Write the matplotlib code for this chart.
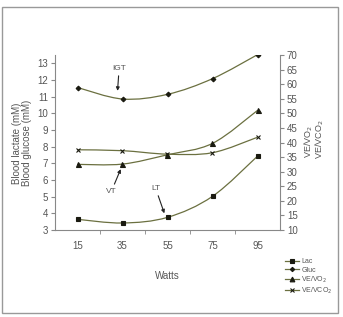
import numpy as np
import matplotlib.pyplot as plt
from matplotlib.path import Path
from matplotlib.patches import PathPatch, Rectangle

plt.rcParams['font.family'] = ['Liberation Sans', 'DejaVu Sans']

watts = [15, 35, 55, 75, 95]
lac = [3.64, 3.42, 3.76, 5.02, 7.43]
gluc = [11.55, 10.86, 11.14, 12.08, 13.52]
ve_vo2 = [32.5, 32.6, 35.8, 39.7, 51.0]
ve_vco2 = [37.5, 37.2, 36.0, 36.5, 41.8]

LINE = '#6b7040'
MK = '#1a1a10'
TXT = '#555555'


def smooth_path(x, y):
    # Excel-like smoothed line: cubic Bezier segments (Catmull-Rom tangents)
    x = np.asarray(x, float)
    y = np.asarray(y, float)
    verts = [(x[0], y[0])]
    codes = [Path.MOVETO]
    n = len(x)
    for i in range(n - 1):
        x0, y0 = (x[i - 1], y[i - 1]) if i > 0 else (x[i], y[i])
        x3, y3 = (x[i + 2], y[i + 2]) if i + 2 < n else (x[i + 1], y[i + 1])
        c1 = (x[i] + (x[i + 1] - x0) / 6, y[i] + (y[i + 1] - y0) / 6)
        c2 = (x[i + 1] - (x3 - x[i]) / 6, y[i + 1] - (y3 - y[i]) / 6)
        verts += [c1, c2, (x[i + 1], y[i + 1])]
        codes += [Path.CURVE4] * 3
    return Path(verts, codes)


fig = plt.figure(figsize=(3.43, 3.17), dpi=100)
fig.patches.append(Rectangle((0.006, 0.013), 0.979, 0.965, transform=fig.transFigure,
                             fill=False, edgecolor='#999999', lw=1.0))

ax = fig.add_axes([55 / 343, 1 - 230 / 317, 225 / 343, 175 / 317])
ax2 = ax.twinx()

for a, xs, ys, mk, ms in [
    (ax, watts, lac, 's', 3.2),
    (ax, watts, gluc, 'D', 2.4),
    (ax2, watts, ve_vo2, '^', 3.6),
    (ax2, watts, ve_vco2, 'x', 3.4),
]:
    a.add_patch(PathPatch(smooth_path(xs, ys), fill=False, edgecolor=LINE, lw=0.9))
    a.plot(xs, ys, linestyle='none', marker=mk, ms=ms, color=MK, mew=0.8)

ax.set_xlim(5, 105)
ax.set_ylim(3, 13.5)
ax2.set_ylim(10, 70)
ax.set_yticks(range(3, 14))
ax2.set_yticks(range(10, 71, 5))
ax.set_xticks(watts)
ax.set_xticks([25, 45, 65, 85], minor=True)

for a in (ax, ax2):
    a.spines['top'].set_visible(False)
    for s in a.spines.values():
        s.set_color('#888888')
        s.set_linewidth(0.8)
ax.spines['right'].set_visible(False)
ax2.spines['left'].set_visible(False)
ax2.spines['bottom'].set_visible(False)

ax.tick_params(axis='x', which='major', length=0, pad=8, labelsize=7, colors=TXT)
ax.tick_params(axis='x', which='minor', length=3, color='#888888')
ax.tick_params(axis='y', length=3, labelsize=7, colors=TXT, color='#888888', pad=2)
ax2.tick_params(axis='y', length=3, labelsize=7, colors=TXT, color='#888888', pad=2)

ax.set_xlabel('Watts', fontsize=7, color=TXT, labelpad=14)
fig.text(17 / 343, 1 - 143 / 317, 'Blood lactate (mM)', rotation=90, ha='center',
         va='center', fontsize=7, color=TXT)
fig.text(27 / 343, 1 - 143 / 317, 'Blood glucose (mM)', rotation=90, ha='center',
         va='center', fontsize=7, color=TXT)
fig.text(309 / 343, 1 - 141 / 317, 'VE/VO$_2$', rotation=90, ha='center',
         va='center', fontsize=6.5, color=TXT)
fig.text(320 / 343, 1 - 139 / 317, 'VE/VCO$_2$', rotation=90, ha='center',
         va='center', fontsize=6.5, color=TXT)

arrow = dict(arrowstyle='-|>', color='#222222', lw=0.8, mutation_scale=5,
             shrinkA=1, shrinkB=0)
ax.annotate('IGT', xy=(32.8, 11.35), xytext=(33.5, 12.5), fontsize=6, color=TXT,
            ha='center', va='bottom', arrowprops=arrow)
ax.annotate('VT', xy=(34.2, 6.65), xytext=(30.0, 5.3), fontsize=6, color=TXT,
            ha='center', va='center', arrowprops=arrow)
ax.annotate('LT', xy=(53.6, 4.0), xytext=(49.7, 5.3), fontsize=6, color=TXT,
            ha='center', va='bottom', arrowprops=arrow)

handles = []
for mk, ms in [('s', 3.0), ('D', 2.2), ('^', 3.4), ('x', 3.2)]:
    h, = ax.plot([], [], color=LINE, lw=0.9, marker=mk, ms=ms, mfc=MK, mec=MK, mew=0.8)
    handles.append(h)
fig.legend(handles, ['Lac', 'Gluc', 'VE/VO$_2$', 'VE/VCO$_2$'], loc='upper left',
           bbox_to_anchor=(282 / 343, 1 - 255 / 317), frameon=False, fontsize=5,
           handlelength=2.0, handletextpad=0.3, labelspacing=0.15, borderpad=0,
           labelcolor=TXT)

fig.savefig('out.png', dpi=100)
